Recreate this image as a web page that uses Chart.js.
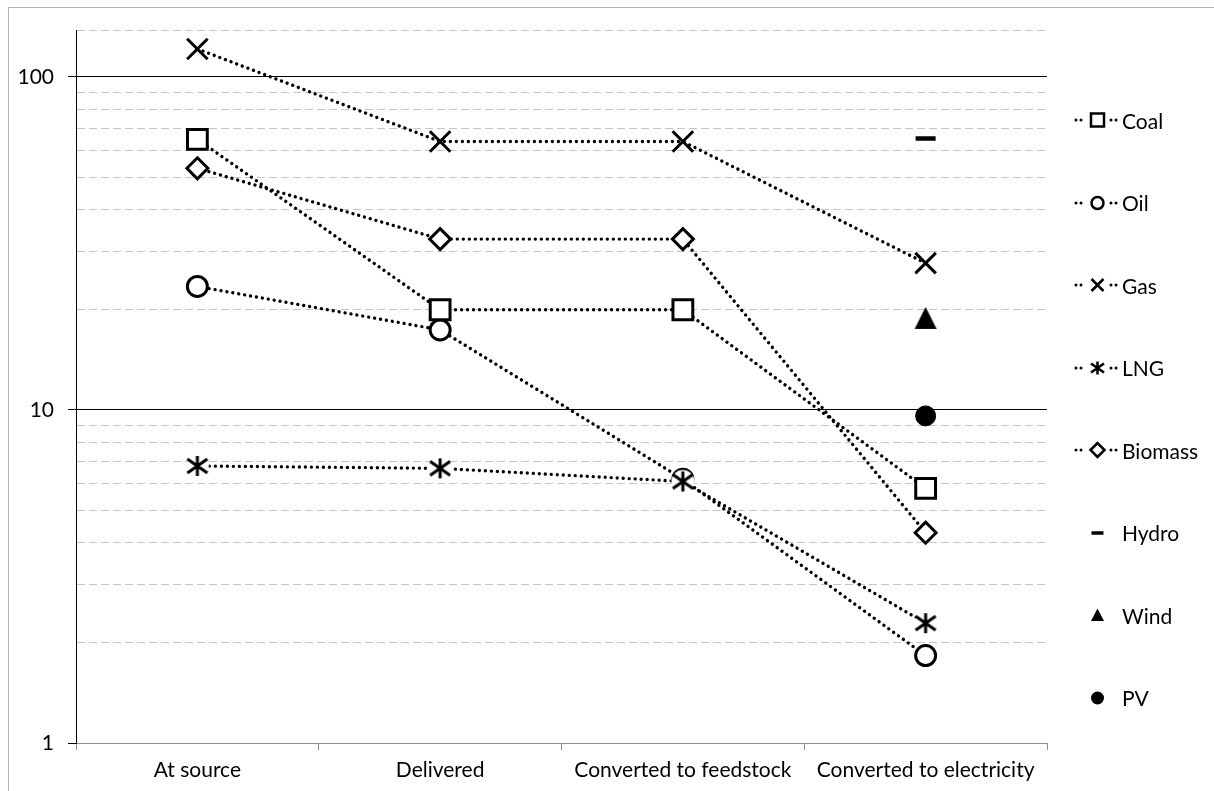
<!DOCTYPE html>
<html><head><meta charset="utf-8">
<script src="https://cdn.jsdelivr.net/npm/chart.js@4"></script>
<style>
html,body{margin:0;padding:0;background:#fff;}
#wrap{position:relative;width:1214px;height:791px;overflow:hidden;background:#fff;}
#frame{position:absolute;left:8px;top:7px;width:1300px;height:900px;border:1px solid #b3b3b3;box-sizing:border-box;pointer-events:none;}
#box{position:absolute;left:0;top:0;width:1214px;height:791px;}
.leg{position:absolute;left:1073px;height:24px;display:flex;align-items:center;font-family:Lato,"Open Sans",sans-serif;font-size:21px;color:#000;white-space:nowrap;}
.leg canvas{width:46px;height:24px;margin-right:3px;display:block;}
</style></head>
<body>
<div id="wrap">
  <div id="frame"></div>
  <div id="box"><canvas id="c"></canvas></div>
  <div id="legend"></div>
</div>
<script>
// ---- data ----
const categories = ['At source', 'Delivered', 'Converted to feedstock', 'Converted to electricity'];
const coal    = [65.0, 20.0, 20.0, 5.82];
const oil     = [23.5, 17.4, 6.2, 1.83];
const gas     = [121.4, 64.0, 64.0, 27.6];
const lng     = [6.79, 6.68, 6.10, 2.29];
const biomass = [53.2, 32.6, 32.6, 4.28];
const hydro   = [null, null, null, 65.4];
const wind    = [null, null, null, 18.9];
const pv      = [null, null, null, 9.6];
const seriesNames = ['Coal', 'Oil', 'Gas', 'LNG', 'Biomass', 'Hydro', 'Wind', 'PV'];
const yTickValues = [1,2,3,4,5,6,7,8,9,10,20,30,40,50,60,70,80,90,100];
const yTickLabels = ['1', '10', '100'];
const yMin = 1, yMax = 138.4;

// ---- marker images ----
function makeStar(size, lw, bg) {
  const c = document.createElement('canvas');
  c.width = size + 6; c.height = size + 6;
  const g = c.getContext('2d');
  const cx = c.width / 2, cy = c.height / 2, h = size / 2;
  if (bg) { g.fillStyle = '#fff'; g.beginPath(); g.arc(cx, cy, h + 1.5, 0, Math.PI * 2); g.fill(); }
  g.strokeStyle = '#000'; g.lineWidth = lw; g.lineCap = 'butt';
  g.beginPath();
  g.moveTo(cx, cy - h); g.lineTo(cx, cy + h);
  g.moveTo(cx - h, cy - h * 0.7); g.lineTo(cx + h, cy + h * 0.7);
  g.moveTo(cx - h, cy + h * 0.7); g.lineTo(cx + h, cy - h * 0.7);
  g.stroke();
  return c;
}
function makeTriangle(size) {
  const c = document.createElement('canvas');
  c.width = size + 2; c.height = size + 2;
  const g = c.getContext('2d');
  g.fillStyle = '#000';
  g.beginPath();
  g.moveTo(c.width / 2, 1); g.lineTo(size + 1, size + 1); g.lineTo(1, size + 1);
  g.closePath(); g.fill();
  return c;
}
const starImg = makeStar(20, 3, true);
const triImg = makeTriangle(22);

const lineBase = {
  borderColor: '#000', borderWidth: 3.4, borderDash: [0.001, 6], borderCapStyle: 'round',
  pointBorderColor: '#000', pointBackgroundColor: '#fff', pointBorderWidth: 3,
  fill: false, tension: 0, spanGaps: false
};

const datasets = [
  Object.assign({}, lineBase, {label: 'Coal', data: coal, pointStyle: 'rect', pointRadius: 14, order: 0}),
  Object.assign({}, lineBase, {label: 'Oil', data: oil, pointStyle: 'circle', pointRadius: 10, order: 3}),
  Object.assign({}, lineBase, {label: 'Gas', data: gas, pointStyle: 'crossRot', pointRadius: 14.5, order: 2}),
  Object.assign({}, lineBase, {label: 'LNG', data: lng, pointStyle: starImg, pointRadius: 10, order: 1}),
  Object.assign({}, lineBase, {label: 'Biomass', data: biomass, pointStyle: 'rectRot', pointRadius: 10.5, order: 4}),
  {label: 'Hydro', data: hydro, showLine: false, pointStyle: 'line', pointRadius: 10, pointBorderWidth: 4.5, pointBorderColor: '#000', pointBackgroundColor: '#000', order: 5},
  {label: 'Wind', data: wind, showLine: false, pointStyle: triImg, pointRadius: 10, pointBorderColor: '#000', pointBackgroundColor: '#000', order: 6},
  {label: 'PV', data: pv, showLine: false, pointStyle: 'circle', pointRadius: 10, pointBorderWidth: 1, pointBorderColor: '#000', pointBackgroundColor: '#000', order: 7}
];

const FONT = {family: 'Lato, "Open Sans", sans-serif', size: 21};
const isMajor = v => v === 1 || v === 10 || v === 100;

new Chart(document.getElementById('c'), {
  type: 'line',
  data: {labels: categories, datasets: datasets},
  options: {
    responsive: true, maintainAspectRatio: false, animation: false, events: [],
    layout: {padding: {top: 30, right: 167, bottom: 0, left: 0}},
    plugins: {legend: {display: false}, tooltip: {enabled: false}},
    scales: {
      x: {
        type: 'category', offset: true,
        afterFit: s => { s.height = 48; },
        grid: {offset: true, drawOnChartArea: false, drawTicks: true, tickLength: 7, tickColor: '#8c8c8c', color: '#8c8c8c', lineWidth: 1},
        border: {display: true, color: '#8c8c8c', width: 1},
        ticks: {font: FONT, color: '#000', padding: 8, maxRotation: 0, autoSkip: false}
      },
      y: {
        type: 'logarithmic', min: yMin, max: yMax,
        afterFit: s => { s.width = 76; },
        afterBuildTicks: s => { s.ticks = yTickValues.concat([yMax]).map(v => ({value: v, major: isMajor(v)})); },
        ticks: {
          font: FONT, color: '#000', padding: 14, autoSkip: false, maxRotation: 0,
          callback: v => yTickLabels.includes(String(v)) ? String(v) : ''
        },
        grid: {
          lineWidth: 1, tickLength: 8, drawTicks: true,
          color: c => (c.tick && isMajor(c.tick.value)) ? (c.tick.value === 1 ? '#8c8c8c' : '#000') : '#c6c6c6',
          tickColor: c => (c.tick && isMajor(c.tick.value)) ? '#000' : 'rgba(0,0,0,0)'
        },
        border: {
          display: true, color: '#000', width: 1,
          dash: c => (c.tick && !isMajor(c.tick.value)) ? [8, 4] : []
        }
      }
    }
  }
});

// ---- legend (HTML) ----
function drawLegendSample(cv, i) {
  cv.width = 46; cv.height = 24;
  const g = cv.getContext('2d');
  const cy = 12, cx = 24.5;
  g.fillStyle = '#000'; g.strokeStyle = '#000';
  if (i < 5) {
    [3, 8, 38, 43].forEach(x => { g.beginPath(); g.arc(x, cy, 1.5, 0, Math.PI * 2); g.fill(); });
  }
  g.lineWidth = 2.5;
  g.beginPath();
  if (i === 0) { g.fillStyle = '#fff'; g.rect(cx - 6.5, cy - 6.5, 13, 13); g.fill(); g.stroke(); }
  else if (i === 1) { g.fillStyle = '#fff'; g.arc(cx, cy, 6, 0, Math.PI * 2); g.fill(); g.stroke(); }
  else if (i === 2) { g.moveTo(cx - 6, cy - 6); g.lineTo(cx + 6, cy + 6); g.moveTo(cx - 6, cy + 6); g.lineTo(cx + 6, cy - 6); g.stroke(); }
  else if (i === 3) { g.moveTo(cx, cy - 6.5); g.lineTo(cx, cy + 6.5); g.moveTo(cx - 6.5, cy - 4.5); g.lineTo(cx + 6.5, cy + 4.5); g.moveTo(cx - 6.5, cy + 4.5); g.lineTo(cx + 6.5, cy - 4.5); g.stroke(); }
  else if (i === 4) { g.fillStyle = '#fff'; g.moveTo(cx - 7, cy); g.lineTo(cx, cy - 7); g.lineTo(cx + 7, cy); g.lineTo(cx, cy + 7); g.closePath(); g.fill(); g.stroke(); }
  else if (i === 5) { g.lineWidth = 3.5; g.moveTo(cx - 6, cy); g.lineTo(cx + 6, cy); g.stroke(); }
  else if (i === 6) { g.moveTo(cx, cy - 6.5); g.lineTo(cx + 6.5, cy + 6); g.lineTo(cx - 6.5, cy + 6); g.closePath(); g.fill(); }
  else { g.arc(cx, cy, 6.5, 0, Math.PI * 2); g.fill(); }
}
const legendEl = document.getElementById('legend');
seriesNames.forEach((name, i) => {
  const d = document.createElement('div');
  d.className = 'leg';
  d.style.top = (120 + 82.5 * i - 12) + 'px';
  const cv = document.createElement('canvas');
  drawLegendSample(cv, i);
  const sp = document.createElement('span');
  sp.textContent = name;
  d.appendChild(cv); d.appendChild(sp);
  legendEl.appendChild(d);
});
</script>
</body></html>
